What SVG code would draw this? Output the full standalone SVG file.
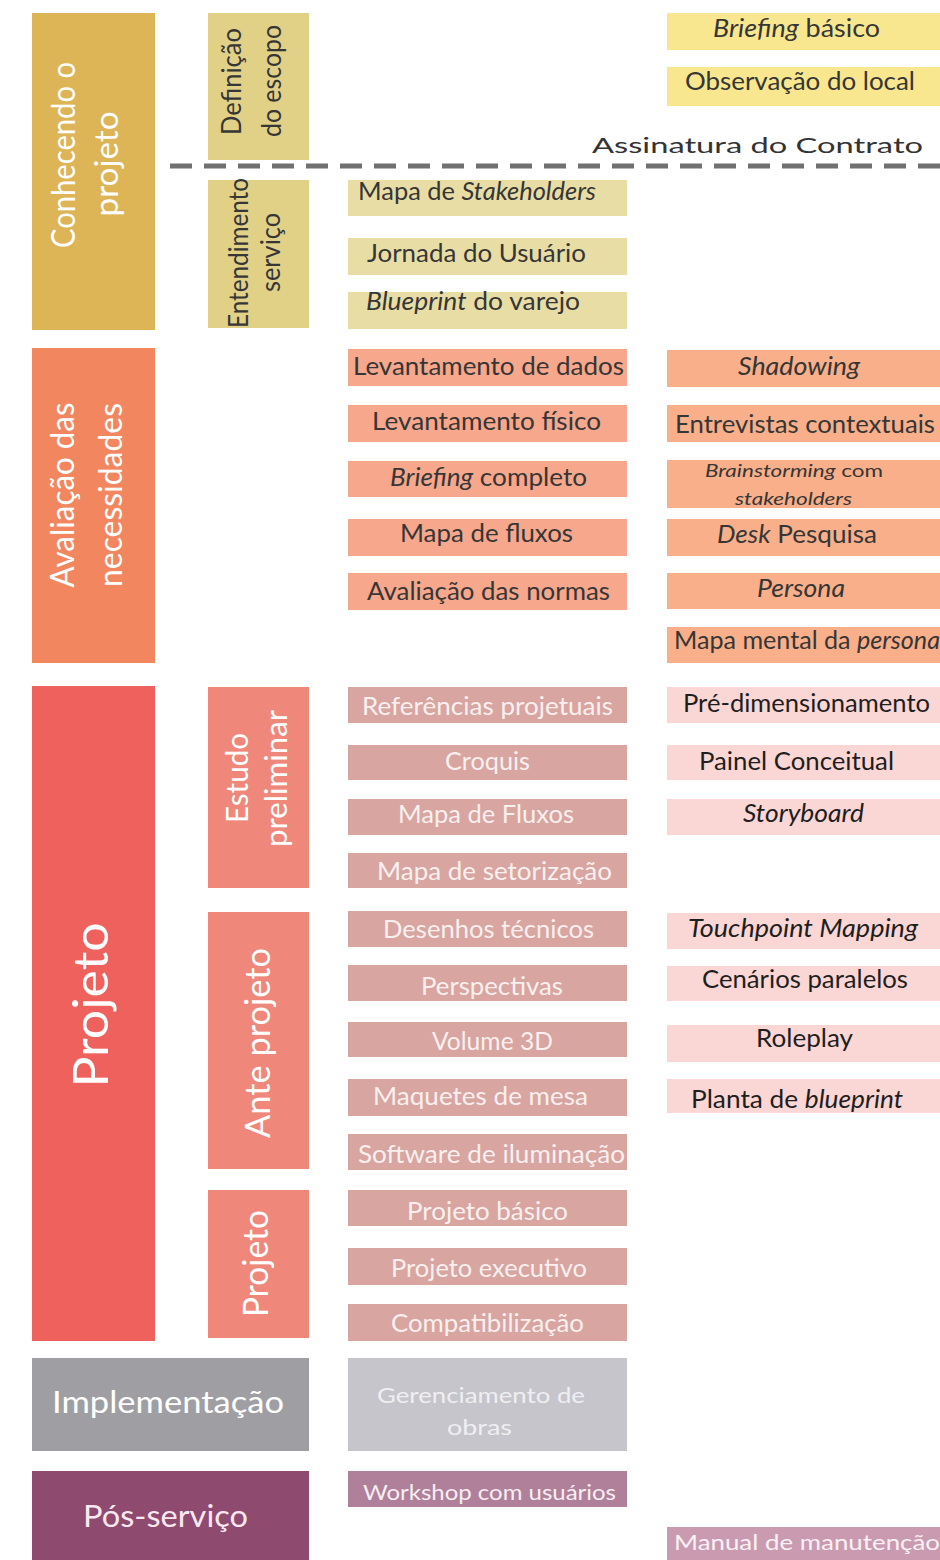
<svg xmlns="http://www.w3.org/2000/svg" width="940" height="1560" viewBox="0 0 940 1560">
  <style>
    .f { font-family: Lato, "Open Sans", "Liberation Sans", sans-serif; text-anchor: middle; }
    .s24 { font-size: 25px; }
    .s22 { font-size: 22px; }
    .s18 { font-size: 18px; }
    .dk { fill: #363636; }
    .bk { fill: #1e1e1e; }
    .wh { fill: #ffffff; }
    .lt { fill: #f8f0f0; }
    .i { font-style: italic; }
    /* phase colours */
    .gold { fill: #ddb456; }
    .beige1 { fill: #e1d187; }
    .beige2 { fill: #e9dda6; }
    .yellow { fill: #f8e78e; }
    .orange { fill: #f1865f; }
    .orange2 { fill: #f6a78c; }
    .orange3 { fill: #f9af8a; }
    .red { fill: #ef615c; }
    .red2 { fill: #ef877a; }
    .pink { fill: #d9a5a1; }
    .pink2 { fill: #fad6d5; }
    .gray { fill: #9f9ea3; }
    .gray2 { fill: #c6c5cb; }
    .plum { fill: #8e4a6f; }
    .plum2 { fill: #b0809a; }
    .plum3 { fill: #ca9bb0; }
  </style>
  <rect width="940" height="1560" fill="#ffffff"/>

  <!-- Phase column -->
  <g id="phase-conhecendo">
    <rect class="gold" x="32" y="13" width="123" height="317"/>
    <text class="f wh" font-size="32" transform="translate(75,155) rotate(-90)" textLength="186" lengthAdjust="spacingAndGlyphs">Conhecendo o</text>
    <text class="f wh" font-size="32" transform="translate(118,164) rotate(-90)" textLength="105" lengthAdjust="spacingAndGlyphs">projeto</text>
  </g>
  <g id="phase-avaliacao">
    <rect class="orange" x="32" y="348" width="123" height="315"/>
    <text class="f wh" font-size="32" transform="translate(74,495) rotate(-90)" textLength="185" lengthAdjust="spacingAndGlyphs">Avaliação das</text>
    <text class="f wh" font-size="32" transform="translate(122,495) rotate(-90)" textLength="184" lengthAdjust="spacingAndGlyphs">necessidades</text>
  </g>
  <g id="phase-projeto">
    <rect class="red" x="32" y="686" width="123" height="655"/>
    <text class="f wh" font-size="48" transform="translate(108,1005) rotate(-90)" textLength="165" lengthAdjust="spacingAndGlyphs">Projeto</text>
  </g>
  <g id="phase-implementacao">
    <rect class="gray" x="32" y="1358" width="277" height="93"/>
    <text class="f wh" font-size="30" x="168" y="1413" textLength="232" lengthAdjust="spacingAndGlyphs">Implementação</text>
  </g>
  <g id="phase-pos-servico">
    <rect class="plum" x="32" y="1471" width="277" height="89"/>
    <text class="f" fill="#f9e8f0" font-size="30" x="165.5" y="1527" textLength="165" lengthAdjust="spacingAndGlyphs">Pós-serviço</text>
  </g>

  <!-- Sub-phase column -->
  <g id="sub-definicao">
    <rect class="beige1" x="208" y="13" width="101" height="147"/>
    <text class="f dk" font-size="26" transform="translate(241,81.5) rotate(-90)" textLength="107" lengthAdjust="spacingAndGlyphs">Definição</text>
    <text class="f dk" font-size="26" transform="translate(281,81) rotate(-90)" textLength="112" lengthAdjust="spacingAndGlyphs">do escopo</text>
  </g>
  <g id="sub-entendimento">
    <rect class="beige1" x="208" y="180" width="101" height="148"/>
    <text class="f dk" font-size="26" transform="translate(248,253) rotate(-90)" textLength="150" lengthAdjust="spacingAndGlyphs">Entendimento</text>
    <text class="f dk" font-size="26" transform="translate(280,252.5) rotate(-90)" textLength="79" lengthAdjust="spacingAndGlyphs">serviço</text>
  </g>
  <g id="sub-estudo">
    <rect class="red2" x="208" y="687" width="101" height="201"/>
    <text class="f wh" font-size="30" transform="translate(248,778) rotate(-90)" textLength="90" lengthAdjust="spacingAndGlyphs">Estudo</text>
    <text class="f wh" font-size="30" transform="translate(287,778.5) rotate(-90)" textLength="137" lengthAdjust="spacingAndGlyphs">preliminar</text>
  </g>
  <g id="sub-anteprojeto">
    <rect class="red2" x="208" y="912" width="101" height="257"/>
    <text class="f wh" font-size="34" transform="translate(270,1043) rotate(-90)" textLength="190" lengthAdjust="spacingAndGlyphs">Ante projeto</text>
  </g>
  <g id="sub-projeto">
    <rect class="red2" x="208" y="1190" width="101" height="148"/>
    <text class="f wh" font-size="34" transform="translate(268,1263.5) rotate(-90)" textLength="107" lengthAdjust="spacingAndGlyphs">Projeto</text>
  </g>

  <!-- Contract signature divider -->
  <g id="contract-line">
    <line x1="170" y1="166" x2="940" y2="166" stroke="#707070" stroke-width="5" stroke-dasharray="22 12"/>
    <text class="f" fill="#333333" font-size="21" x="757.5" y="153" textLength="331" lengthAdjust="spacingAndGlyphs">Assinatura do Contrato</text>
  </g>

  <!-- Activities column -->
  <g id="act-stakeholders"><rect class="beige2" x="348" y="180" width="279" height="36"/><text class="f s24 dk" x="477" y="200" textLength="238" lengthAdjust="spacingAndGlyphs">Mapa de <tspan class="i">Stakeholders</tspan></text></g>
  <g id="act-jornada"><rect class="beige2" x="348" y="238" width="279" height="37"/><text class="f s24 dk" x="476.5" y="262" textLength="219" lengthAdjust="spacingAndGlyphs">Jornada do Usuário</text></g>
  <g id="act-blueprint-varejo"><rect class="beige2" x="348" y="292" width="279" height="37"/><text class="f s24 dk" x="473" y="310" textLength="214" lengthAdjust="spacingAndGlyphs"><tspan class="i">Blueprint</tspan> do varejo</text></g>

  <g id="act-lev-dados"><rect class="orange2" x="348" y="349" width="279" height="37"/><text class="f s24 dk" x="488.5" y="375" textLength="271" lengthAdjust="spacingAndGlyphs">Levantamento de dados</text></g>
  <g id="act-lev-fisico"><rect class="orange2" x="348" y="405" width="279" height="37"/><text class="f s24 dk" x="486.5" y="430" textLength="229" lengthAdjust="spacingAndGlyphs">Levantamento físico</text></g>
  <g id="act-briefing-completo"><rect class="orange2" x="348" y="461" width="279" height="36"/><text class="f s24 dk" x="488.5" y="486" textLength="197" lengthAdjust="spacingAndGlyphs"><tspan class="i">Briefing</tspan> completo</text></g>
  <g id="act-mapa-fluxos"><rect class="orange2" x="348" y="519" width="279" height="37"/><text class="f s24 dk" x="486.5" y="542" textLength="173" lengthAdjust="spacingAndGlyphs">Mapa de fluxos</text></g>
  <g id="act-normas"><rect class="orange2" x="348" y="573" width="279" height="37"/><text class="f s24 dk" x="488.5" y="600" textLength="243" lengthAdjust="spacingAndGlyphs">Avaliação das normas</text></g>

  <g id="act-referencias"><rect class="pink" x="348" y="687" width="279" height="36"/><text class="f s24 lt" x="487.5" y="715" textLength="251" lengthAdjust="spacingAndGlyphs">Referências projetuais</text></g>
  <g id="act-croquis"><rect class="pink" x="348" y="745" width="279" height="35"/><text class="f s24 lt" x="487.5" y="770" textLength="85" lengthAdjust="spacingAndGlyphs">Croquis</text></g>
  <g id="act-mapa-fluxos-2"><rect class="pink" x="348" y="799" width="279" height="36"/><text class="f s24 lt" x="486" y="823" textLength="176" lengthAdjust="spacingAndGlyphs">Mapa de Fluxos</text></g>
  <g id="act-setorizacao"><rect class="pink" x="348" y="853" width="279" height="35"/><text class="f s24 lt" x="494.5" y="880" textLength="235" lengthAdjust="spacingAndGlyphs">Mapa de setorização</text></g>
  <g id="act-desenhos"><rect class="pink" x="348" y="911" width="279" height="36"/><text class="f s24 lt" x="488.5" y="938" textLength="211" lengthAdjust="spacingAndGlyphs">Desenhos técnicos</text></g>
  <g id="act-perspectivas"><rect class="pink" x="348" y="965" width="279" height="36"/><text class="f s24 lt" x="492" y="995" textLength="142" lengthAdjust="spacingAndGlyphs">Perspectivas</text></g>
  <g id="act-volume"><rect class="pink" x="348" y="1022" width="279" height="35"/><text class="f s24 lt" x="492.5" y="1050" textLength="121" lengthAdjust="spacingAndGlyphs">Volume 3D</text></g>
  <g id="act-maquetes"><rect class="pink" x="348" y="1079" width="279" height="37"/><text class="f s24 lt" x="480.5" y="1105" textLength="215" lengthAdjust="spacingAndGlyphs">Maquetes de mesa</text></g>
  <g id="act-software"><rect class="pink" x="348" y="1134" width="279" height="36"/><text class="f s24 lt" x="491.5" y="1163" textLength="267" lengthAdjust="spacingAndGlyphs">Software de iluminação</text></g>
  <g id="act-basico"><rect class="pink" x="348" y="1190" width="279" height="36"/><text class="f s24 lt" x="487.5" y="1220" textLength="161" lengthAdjust="spacingAndGlyphs">Projeto básico</text></g>
  <g id="act-executivo"><rect class="pink" x="348" y="1248" width="279" height="37"/><text class="f s24 lt" x="489" y="1277" textLength="196" lengthAdjust="spacingAndGlyphs">Projeto executivo</text></g>
  <g id="act-compat"><rect class="pink" x="348" y="1304" width="279" height="37"/><text class="f s24 lt" x="487.5" y="1332" textLength="193" lengthAdjust="spacingAndGlyphs">Compatibilização</text></g>

  <g id="act-gerenciamento"><rect class="gray2" x="348" y="1358" width="279" height="93"/>
    <text class="f s22" fill="#efeff1" x="481" y="1403" textLength="208" lengthAdjust="spacingAndGlyphs">Gerenciamento de</text>
    <text class="f s22" fill="#efeff1" x="479.5" y="1435" textLength="65" lengthAdjust="spacingAndGlyphs">obras</text>
  </g>
  <g id="act-workshop"><rect class="plum2" x="348" y="1471" width="279" height="36"/><text class="f" fill="#f5eef2" font-size="21" x="489.5" y="1500" textLength="253" lengthAdjust="spacingAndGlyphs">Workshop com usuários</text></g>

  <!-- Tools column -->
  <g id="tool-briefing-basico"><rect class="yellow" x="667" y="13" width="278" height="37"/><text class="f s24 dk" x="796.5" y="37" textLength="167" lengthAdjust="spacingAndGlyphs"><tspan class="i">Briefing</tspan> básico</text></g>
  <g id="tool-observacao"><rect class="yellow" x="667" y="67" width="278" height="39"/><text class="f s24 dk" x="800" y="90" textLength="230" lengthAdjust="spacingAndGlyphs">Observação do local</text></g>

  <g id="tool-shadowing"><rect class="orange3" x="667" y="350" width="278" height="37"/><text class="f s24 dk i" x="799" y="375" textLength="122" lengthAdjust="spacingAndGlyphs">Shadowing</text></g>
  <g id="tool-entrevistas"><rect class="orange3" x="667" y="405" width="278" height="37"/><text class="f s24 dk" x="805" y="433" textLength="260" lengthAdjust="spacingAndGlyphs">Entrevistas contextuais</text></g>
  <g id="tool-brainstorming"><rect class="orange3" x="667" y="460" width="278" height="48"/>
    <text class="f s18 dk" x="794" y="477" textLength="178" lengthAdjust="spacingAndGlyphs"><tspan class="i">Brainstorming</tspan>  com</text>
    <text class="f s18 dk i" x="793.5" y="505" textLength="117" lengthAdjust="spacingAndGlyphs">stakeholders</text>
  </g>
  <g id="tool-desk"><rect class="orange3" x="667" y="519" width="278" height="37"/><text class="f s24 dk" x="797" y="543" textLength="160" lengthAdjust="spacingAndGlyphs"><tspan class="i">Desk</tspan> Pesquisa</text></g>
  <g id="tool-persona"><rect class="orange3" x="667" y="573" width="278" height="36"/><text class="f s24 dk i" x="801" y="597" textLength="88" lengthAdjust="spacingAndGlyphs">Persona</text></g>
  <g id="tool-mapa-mental"><rect class="orange3" x="667" y="627" width="278" height="36"/><text class="f s24 dk" x="807" y="649" textLength="266" lengthAdjust="spacingAndGlyphs">Mapa mental da <tspan class="i">persona</tspan></text></g>

  <g id="tool-predim"><rect class="pink2" x="667" y="687" width="278" height="36"/><text class="f s24 bk" x="806.5" y="712" textLength="247" lengthAdjust="spacingAndGlyphs">Pré-dimensionamento</text></g>
  <g id="tool-painel"><rect class="pink2" x="667" y="745" width="278" height="35"/><text class="f s24 bk" x="796.5" y="770" textLength="195" lengthAdjust="spacingAndGlyphs">Painel Conceitual</text></g>
  <g id="tool-storyboard"><rect class="pink2" x="667" y="799" width="278" height="36"/><text class="f s24 bk i" x="803.5" y="822" textLength="121" lengthAdjust="spacingAndGlyphs">Storyboard</text></g>
  <g id="tool-touchpoint"><rect class="pink2" x="667" y="913" width="278" height="36"/><text class="f s24 bk i" x="803" y="937" textLength="230" lengthAdjust="spacingAndGlyphs">Touchpoint Mapping</text></g>
  <g id="tool-cenarios"><rect class="pink2" x="667" y="966" width="278" height="35"/><text class="f s24 bk" x="805" y="988" textLength="206" lengthAdjust="spacingAndGlyphs">Cenários paralelos</text></g>
  <g id="tool-roleplay"><rect class="pink2" x="667" y="1025" width="278" height="37"/><text class="f s24 bk" x="804.5" y="1047" textLength="97" lengthAdjust="spacingAndGlyphs">Roleplay</text></g>
  <g id="tool-planta"><rect class="pink2" x="667" y="1079" width="278" height="34"/><text class="f s24 bk" x="797" y="1108" textLength="212" lengthAdjust="spacingAndGlyphs">Planta de <tspan class="i">blueprint</tspan></text></g>

  <g id="tool-manual"><rect class="plum3" x="667" y="1527" width="278" height="33"/><text class="f s22" fill="#f8f0f4" x="807" y="1550" textLength="266" lengthAdjust="spacingAndGlyphs">Manual de manutenção</text></g>
</svg>
